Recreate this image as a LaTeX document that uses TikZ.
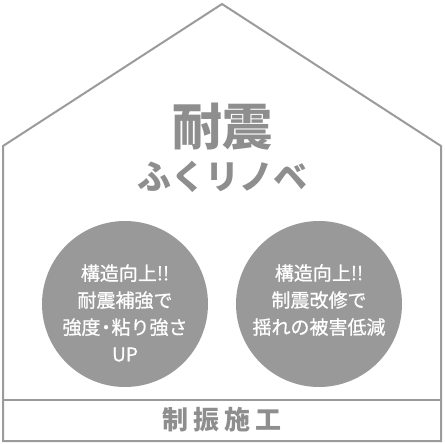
\documentclass[tikz,border=0pt]{standalone}
\usepackage{fontspec}
\setmainfont{Noto Sans CJK JP}
\newfontfamily\ballfont[FakeBold=0.8]{Noto Sans CJK JP}
\definecolor{housegray}{HTML}{9B9B9B}
\definecolor{ballgray}{HTML}{999999}
\definecolor{textgray}{HTML}{8E8E8E}

\begin{document}
\begin{tikzpicture}[x=1pt,y=-1pt,
    ball/.style={circle, fill=ballgray, minimum size=166pt, inner sep=0pt},
    balltext/.style={align=center, text=white, font=\ballfont\fontsize{19}{27}\selectfont},
    heading/.style={text=textgray, font=\bfseries\fontsize{#1}{#1}\selectfont}]
    \useasboundingbox (0,0) rectangle (444,444);

    % house outline and bottom band
    \draw[housegray, line width=2pt, line join=miter] (3,146) -- (222,4) -- (441,146) -- (441,441) -- (3,441) -- cycle;
    \draw[housegray, line width=2pt] (3,400) -- (441,400);

    \node[heading=50] (taishin) at (222,127) {耐震};
    \node[heading=34] (fukurinobe) at (222,177) {ふくリノベ};

    \node[ball] (left) at (125,304) {};
    \node[ball] (right) at (319,304) {};
    \node[balltext] (lefttext) at (125,313) {構造向上!!\\耐震補強で\\強度\kern-4pt・\kern-4pt粘り強さ\\UP};
    \node[balltext] (righttext) at (319,300) {構造向上!!\\制震改修で\\揺れの被害低減};

    \node[heading=26] (seishin) at (222,420) {制\hspace{5pt}振\hspace{5pt}施\hspace{5pt}工};
\end{tikzpicture}
\end{document}
